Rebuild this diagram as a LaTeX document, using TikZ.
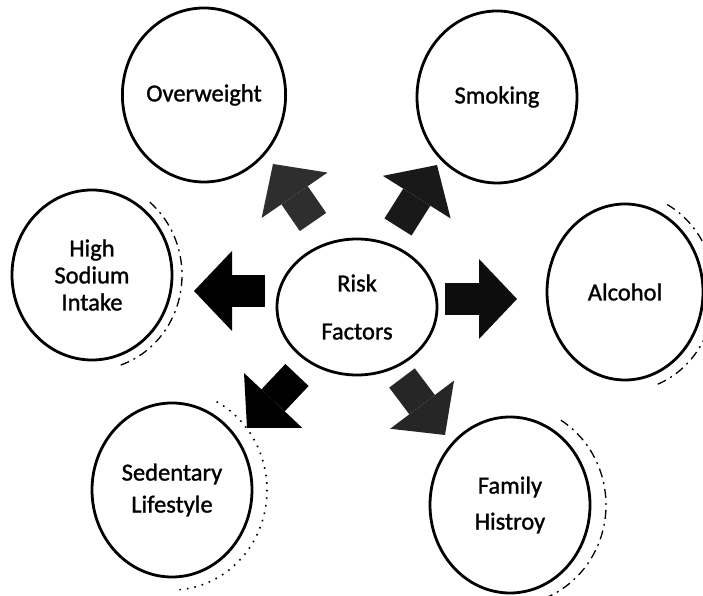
\documentclass[tikz,border=0pt]{standalone}
\usepackage{fontspec}
\setmainfont{Carlito}[FakeBold=1.2]
\usetikzlibrary{shapes.geometric,arrows.meta}
\begin{document}
\begin{tikzpicture}[x=1pt,y=1pt,
  bubble/.style={ellipse,draw=black,line width=2.8pt,inner sep=0pt,align=center,
    font=\fontsize{24.5}{27}\selectfont},
  barrow/.style={line width=32pt,-{Triangle[width=80pt,length=38pt,line width=0pt]}},
  halo/.style={line width=1.3pt,dash pattern=on 9pt off 5pt on 2pt off 5pt},
  dotring/.style={line width=1.6pt,dash pattern=on 1.6pt off 6pt}]
\useasboundingbox (0,0) rectangle (703,596);
\fill[white] (0,0) rectangle (703,596);

% nodes
\node[bubble,minimum width=158pt,minimum height=174pt] (ow) at (204,501) {Overweight};
\node[bubble,minimum width=160pt,minimum height=172pt] (sm) at (497,499) {Smoking};
\node[bubble,minimum width=160pt,minimum height=170pt] (hs) at (92,321) {High\\Sodium\\Intake};
\node[bubble,minimum width=160pt,minimum height=136pt] (rf) at (357,289) {Risk\\[21pt]Factors};
\node[bubble,minimum width=156pt,minimum height=176pt] (al) at (625,304) {Alcohol};
\node[bubble,minimum width=160pt,minimum height=174pt] (sed) at (172,106) {Sedentary\\[5pt]Lifestyle};
\node[bubble,minimum width=160pt,minimum height=176pt] (fam) at (510,91) {Family\\[9pt]Histroy};

% partial outer rings
\draw[halo] (hs.center) ++(50:90 and 95) arc[start angle=50,end angle=-72,x radius=90,y radius=95];
\draw[halo] (al.center) ++(62:90 and 99) arc[start angle=62,end angle=-70,x radius=90,y radius=99];
\draw[dotring] (sed.center) ++(62:95 and 100) arc[start angle=62,end angle=-88,x radius=95,y radius=100];
\draw[halo] (fam.center) ++(58:96 and 100) arc[start angle=58,end angle=-70,x radius=96,y radius=100];

% arrow end points
\coordinate (a1s) at (313,374); \coordinate (a1e) at (273,432);
\coordinate (a2s) at (398,369); \coordinate (a2e) at (437,431);
\coordinate (a3s) at (265,305); \coordinate (a3e) at (194,305);
\coordinate (a4s) at (445,297); \coordinate (a4e) at (517,297);
\coordinate (a5s) at (297,221); \coordinate (a5e) at (247,168);
\coordinate (a6s) at (402,218); \coordinate (a6e) at (445,161);

\draw[barrow,color=black!82] (a1s) -- (a1e);
\draw[barrow,color=black!90] (a2s) -- (a2e);
\draw[barrow,color=black] (a3s) -- (a3e);
\draw[barrow,color=black!95] (a4s) -- (a4e);
\draw[barrow,color=black] (a5s) -- (a5e);
\draw[barrow,color=black!85] (a6s) -- (a6e);
\end{tikzpicture}
\end{document}
